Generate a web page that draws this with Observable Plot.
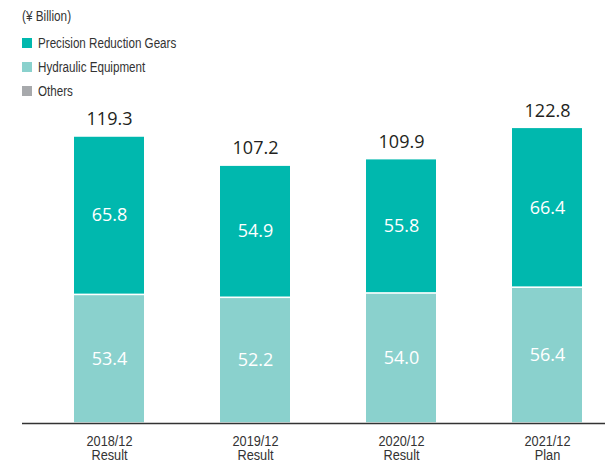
<!DOCTYPE html>
<html><head><meta charset="utf-8">
<script src="https://cdn.jsdelivr.net/npm/d3@7"></script>
<script src="https://cdn.jsdelivr.net/npm/@observablehq/plot@0.6"></script>
<style>
body{margin:0;background:#fff;}
#wrap{position:relative;width:605px;height:466px;overflow:hidden;}
#legend{position:absolute;left:22px;top:0;font-family:"Liberation Sans",Arial,sans-serif;font-size:15.5px;color:#333;line-height:24px;}
#legend .unit{position:absolute;top:4px;left:0;white-space:nowrap;transform:scaleX(0.76);transform-origin:0 50%;}
#legend .row{position:absolute;left:0;white-space:nowrap;display:flex;align-items:center;}
#legend .sw{display:inline-block;width:10px;height:10px;margin-right:6px;flex:none;}
#legend .lab{display:inline-block;transform:scaleX(0.75);transform-origin:0 50%;}
#chart{position:absolute;left:0;top:0;}
</style></head>
<body>
<div id="wrap">
<div id="chart"></div>
<div id="legend"></div>
</div>
<script>
const periods = ["2018/12\nResult", "2019/12\nResult", "2020/12\nResult", "2021/12\nPlan"];
const segments = ["Precision Reduction Gears", "Hydraulic Equipment", "Others"];
const colors = ["#00b8ae", "#8ad1cd", "#a7a9ac"];
const hydraulic = [53.4, 52.2, 54.0, 56.4];
const precision = [65.8, 54.9, 55.8, 66.4];
const others = [0.1, 0.1, 0.1, 0.0];
const totals = [119.3, 107.2, 109.9, 122.8];
const unitLabel = "(¥ Billion)";

const rows = [];
periods.forEach((p, i) => {
  rows.push({period: p, segment: segments[1], value: hydraulic[i]});
  rows.push({period: p, segment: segments[0], value: precision[i]});
  rows.push({period: p, segment: segments[2], value: others[i]});
});
const stackOrder = [segments[1], segments[0], segments[2]];
const totalRows = periods.map((p, i) => ({period: p, total: totals[i]}));

// legend
const lg = document.getElementById("legend");
const u = document.createElement("div");
u.className = "unit"; u.textContent = unitLabel; lg.appendChild(u);
segments.forEach((s, i) => {
  const r = document.createElement("div");
  r.className = "row"; r.style.top = (31 + i * 24) + "px";
  const sw = document.createElement("span");
  sw.className = "sw"; sw.style.background = colors[i];
  r.appendChild(sw);
  const lab = document.createElement("span");
  lab.className = "lab"; lab.textContent = s;
  r.appendChild(lab);
  lg.appendChild(r);
});

const chart = Plot.plot({
  width: 605,
  height: 466,
  marginLeft: 22,
  marginRight: 0,
  marginTop: 122,
  marginBottom: 43,
  style: {background: "#fff"},
  x: {domain: periods, range: [36, 620], paddingInner: 0.52, paddingOuter: 0.26, label: null},
  y: {domain: [0, 125], axis: null},
  color: {domain: segments, range: colors},
  marks: [
    Plot.barY(rows, Plot.stackY({x: "period", y: "value", fill: "segment", z: "segment", order: stackOrder, insetTop: 0.8, insetBottom: 0.8})),
    Plot.text(rows, Plot.stackY({
      filter: d => d.segment !== "Others",
      x: "period", y: "value", z: "segment", order: stackOrder,
      text: d => d.value.toFixed(1),
      fill: "white", fontSize: 18, fontFamily: "'Open Sans', 'Noto Sans', sans-serif"
    })),
    Plot.text(totalRows, {
      x: "period", y: "total", text: d => d.total.toFixed(1), dy: -17,
      fill: "#231f20", fontSize: 18, fontFamily: "'Open Sans', 'Noto Sans', sans-serif"
    }),
    Plot.ruleY([0], {stroke: "#333", strokeWidth: 1.5}),
    Plot.axisX({
      tickSize: 0, tickPadding: 12, fontSize: 14.5, lineHeight: 1.0,
      fontFamily: "'Liberation Sans', Arial, sans-serif",
      fill: "#333", label: null
    })
  ]
});
// condense the axis tick labels horizontally (narrow face of the reference)
d3.select(chart).selectAll('g[aria-label="x-axis tick label"] text').each(function() {
  const t = this.getAttribute("transform") || "";
  this.setAttribute("transform", t + " scale(0.88,1)");
});
document.getElementById("chart").appendChild(chart);
</script>
</body></html>
